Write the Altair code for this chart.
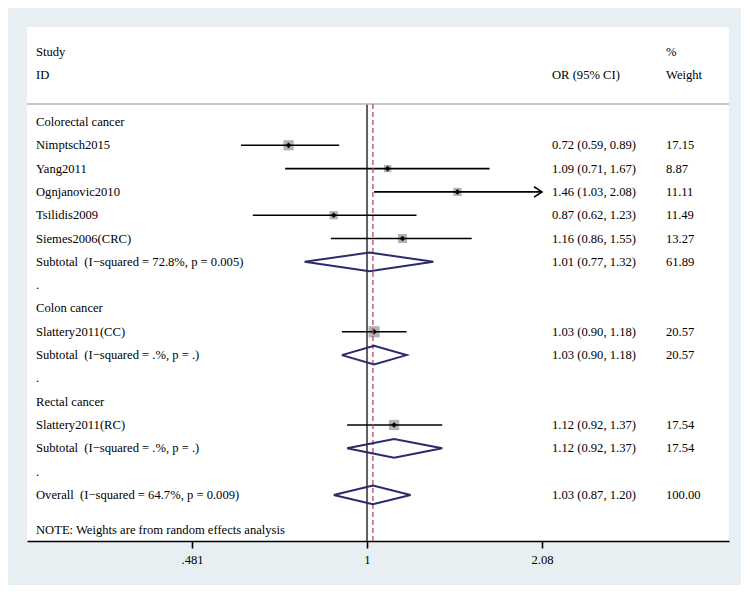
import altair as alt
import pandas as pd

# ---------------- data ----------------
study_names = ["Nimptsch2015", "Yang2011", "Ognjanovic2010", "Tsilidis2009",
               "Siemes2006(CRC)", "Slattery2011(CC)", "Slattery2011(RC)"]
study_rows = [1, 2, 3, 4, 5, 9, 13]
study_or = [0.72, 1.09, 1.46, 0.87, 1.16, 1.03, 1.12]
study_lo = [0.59, 0.71, 1.03, 0.62, 0.86, 0.90, 0.92]
study_hi = [0.89, 1.67, 2.08, 1.23, 1.55, 1.18, 1.37]
study_weight = [17.15, 8.87, 11.11, 11.49, 13.27, 20.57, 17.54]
study_or_text = ["0.72 (0.59, 0.89)", "1.09 (0.71, 1.67)", "1.46 (1.03, 2.08)",
                 "0.87 (0.62, 1.23)", "1.16 (0.86, 1.55)", "1.03 (0.90, 1.18)",
                 "1.12 (0.92, 1.37)"]
study_weight_text = ["17.15", "8.87", "11.11", "11.49", "13.27", "20.57", "17.54"]
study_arrow = [False, False, True, False, False, False, False]

pooled_labels = ["Subtotal\u00a0 (I\u2212squared = 72.8%, p = 0.005)",
                 "Subtotal\u00a0 (I\u2212squared = .%, p = .)",
                 "Subtotal\u00a0 (I\u2212squared = .%, p = .)",
                 "Overall\u00a0 (I\u2212squared = 64.7%, p = 0.009)"]
pooled_rows = [6, 10, 14, 16]
pooled_or = [1.01, 1.03, 1.12, 1.025]
pooled_lo = [0.77, 0.90, 0.92, 0.87]
pooled_hi = [1.32, 1.18, 1.37, 1.20]
pooled_or_text = ["1.01 (0.77, 1.32)", "1.03 (0.90, 1.18)",
                  "1.12 (0.92, 1.37)", "1.03 (0.87, 1.20)"]
pooled_weight_text = ["61.89", "20.57", "17.54", "100.00"]

group_labels = ["Colorectal cancer", "Colon cancer", "Rectal cancer"]
group_rows = [0, 8, 12]
spacer_rows = [7, 11, 15]

header_left = ["Study", "ID"]
header_rows = [-3, -2]
overall_or = 1.025
tick_values = [0.481, 1, 2.08]
note_text = "NOTE: Weights are from random effects analysis"

# ---------------- tables ----------------
studies = pd.DataFrame({
    "label": study_names, "row": study_rows, "est": study_or, "lo": study_lo,
    "hi": study_hi, "w": study_weight, "ortext": study_or_text,
    "wtext": study_weight_text, "arrow": study_arrow,
})
pooled = pd.DataFrame({
    "label": pooled_labels, "row": pooled_rows, "est": pooled_or, "lo": pooled_lo,
    "hi": pooled_hi, "ortext": pooled_or_text, "wtext": pooled_weight_text,
})
left_labels = pd.concat([
    studies[["label", "row"]], pooled[["label", "row"]],
    pd.DataFrame({"label": group_labels, "row": group_rows}),
    pd.DataFrame({"label": ["."] * len(spacer_rows), "row": spacer_rows}),
    pd.DataFrame({"label": header_left, "row": header_rows}),
], ignore_index=True)
right_labels = pd.concat([studies[["row", "ortext", "wtext"]],
                          pooled[["row", "ortext", "wtext"]]], ignore_index=True)

H = 0.4  # half height of diamonds in row units
dia = []
for i, r in pooled.iterrows():
    pts = [(r.lo, r.row), (r.est, r.row - H), (r.hi, r.row), (r.est, r.row + H), (r.lo, r.row)]
    for k, (xv, yv) in enumerate(pts):
        dia.append({"g": i, "o": k, "x": xv, "y": yv})
dia = pd.DataFrame(dia)

FONT = "Liberation Serif"
FS = 12.6
TXT = "#000000"
W, HT = 702, 514

xscale = alt.Scale(type="log", domain=[0.2410, 4.549], nice=False, zero=False)
yscale = alt.Scale(domain=[-4.075, 17.975], reverse=True, nice=False, zero=False)

xaxis = alt.Axis(values=tick_values, title=None, grid=False,
                 labelExpr="datum.value == 0.481 ? '.481' : toString(datum.value)",
                 domainColor="#000000", domainWidth=1.6, tickColor="#000000",
                 tickWidth=1.6, tickSize=7, labelFont=FONT, labelFontSize=FS,
                 labelColor=TXT, labelPadding=5)

# null line and overall dashed line
null_line = alt.Chart(pd.DataFrame({"v": [1]})).mark_rule(
    color="#3a3a3a", strokeWidth=1.6).encode(
    x=alt.X("v:Q", scale=xscale, axis=xaxis), y=alt.value(77), y2=alt.value(HT))
overall_line = alt.Chart(pd.DataFrame({"v": [overall_or]})).mark_rule(
    color="#a8505e", strokeWidth=1.3, strokeDash=[5, 3]).encode(
    x=alt.X("v:Q", scale=xscale), y=alt.value(77), y2=alt.value(HT))

header_line = alt.Chart(pd.DataFrame({"a": [0]})).mark_rule(
    color="#b5b5b5", strokeWidth=1.6).encode(
    x=alt.value(0), x2=alt.value(W), y=alt.value(77))

squares = alt.Chart(studies).mark_square(color="#b3b3b3", opacity=1).encode(
    x=alt.X("est:Q", scale=xscale),
    y=alt.Y("row:Q", scale=yscale, axis=None),
    size=alt.Size("w:Q", scale=alt.Scale(domain=[0, 20.57], range=[0, 125]), legend=None),
)
ci = alt.Chart(studies).mark_rule(color="#000000", strokeWidth=1.6).encode(
    x=alt.X("lo:Q", scale=xscale), x2="hi:Q",
    y=alt.Y("row:Q", scale=yscale, axis=None),
)
arrows = alt.Chart(studies).transform_filter("datum.arrow").mark_point(
    shape="M-1,-0.65L0,0L-1,0.65", filled=False, color="#000000",
    strokeWidth=1.6, size=256, opacity=1).encode(
    x=alt.X("hi:Q", scale=xscale),
    y=alt.Y("row:Q", scale=yscale, axis=None),
)
dots = alt.Chart(studies).mark_point(shape="diamond", filled=True, color="#000000",
                                     size=32, opacity=1).encode(
    x=alt.X("est:Q", scale=xscale),
    y=alt.Y("row:Q", scale=yscale, axis=None),
)
diamonds = alt.Chart(dia).mark_line(color="#2a2a6c", strokeWidth=2,
                                    strokeJoin="miter").encode(
    x=alt.X("x:Q", scale=xscale),
    y=alt.Y("y:Q", scale=yscale, axis=None),
    detail="g:N", order="o:Q",
)

left_text = alt.Chart(left_labels).mark_text(
    align="left", baseline="middle", font=FONT, fontSize=FS, color=TXT).encode(
    x=alt.value(9), y=alt.Y("row:Q", scale=yscale, axis=None), text="label:N")
or_text = alt.Chart(right_labels).mark_text(
    align="left", baseline="middle", font=FONT, fontSize=FS, color=TXT).encode(
    x=alt.value(525), y=alt.Y("row:Q", scale=yscale, axis=None), text="ortext:N")
w_text = alt.Chart(right_labels).mark_text(
    align="left", baseline="middle", font=FONT, fontSize=FS, color=TXT).encode(
    x=alt.value(639), y=alt.Y("row:Q", scale=yscale, axis=None), text="wtext:N")

hdr = pd.DataFrame({"t": ["OR (95% CI)", "%", "Weight"], "row": [-2, -3, -2],
                    "col": ["or", "w", "w"]})
hdr_or = alt.Chart(hdr).transform_filter("datum.col == 'or'").mark_text(
    align="left", baseline="middle", font=FONT, fontSize=FS, color=TXT).encode(
    x=alt.value(525), y=alt.Y("row:Q", scale=yscale, axis=None), text="t:N")
hdr_w = alt.Chart(hdr).transform_filter("datum.col == 'w'").mark_text(
    align="left", baseline="middle", font=FONT, fontSize=FS, color=TXT).encode(
    x=alt.value(639), y=alt.Y("row:Q", scale=yscale, axis=None), text="t:N")

note = alt.Chart(pd.DataFrame({"t": [note_text]})).mark_text(
    align="left", baseline="middle", font=FONT, fontSize=FS, color=TXT).encode(
    x=alt.value(9), y=alt.value(503), text="t:N")

chart = alt.layer(
    null_line, header_line, squares, ci, arrows, dots, overall_line, diamonds,
    left_text, or_text, w_text, hdr_or, hdr_w, note,
).properties(
    width=W, height=HT,
    autosize=alt.AutoSizeParams(type="none"),
    padding={"left": 19, "top": 19, "right": 12, "bottom": 44},
    background="#e8eff2",
).configure_view(fill="#ffffff", stroke=None)

chart.save("out.html", embed_options={"renderer": "svg", "actions": False})
